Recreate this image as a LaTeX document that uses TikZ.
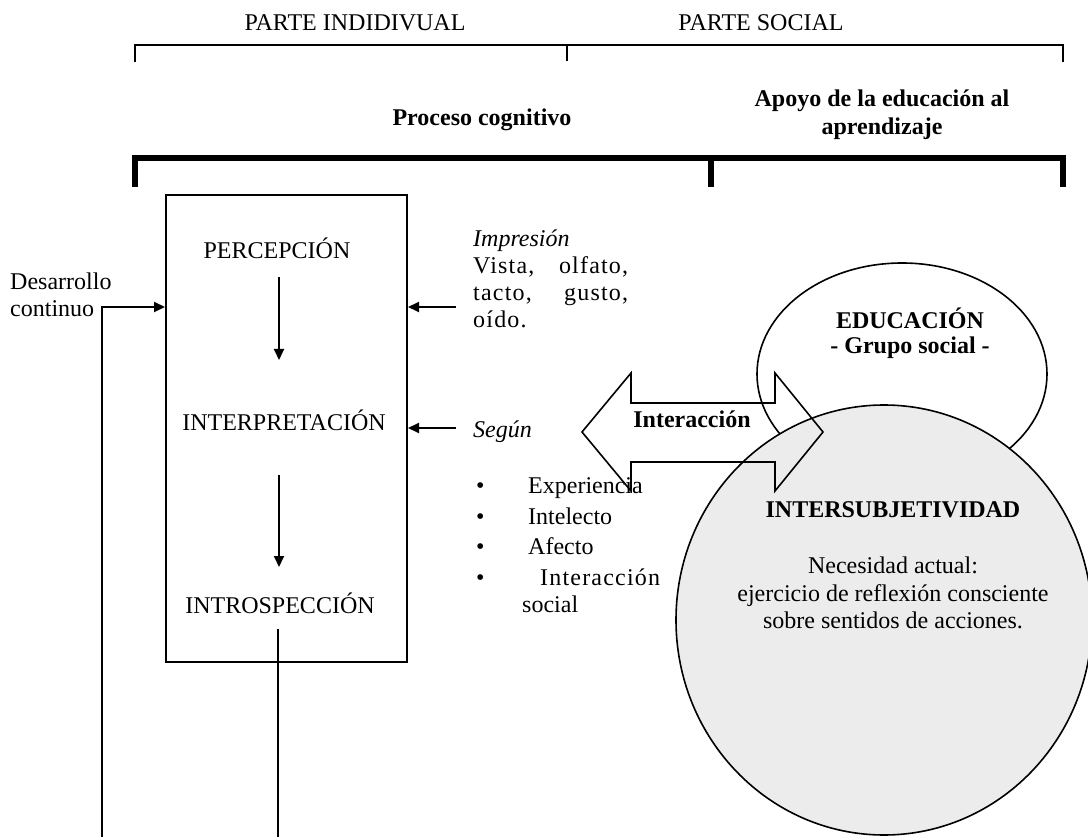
\documentclass[tikz,border=0pt]{standalone}
\usepackage{fontspec}
\setmainfont{Liberation Serif}
\usetikzlibrary{arrows.meta,shapes.geometric}
\begin{document}
\begin{tikzpicture}[x=1pt,y=-1pt,
  every node/.style={font=\fontsize{24}{28}\selectfont, inner sep=0pt},
  lbl/.style={anchor=base},
  lblw/.style={anchor=base west},
  bld/.style={font=\fontsize{24}{28}\selectfont\bfseries},
  itl/.style={font=\fontsize{24}{28}\selectfont\itshape},
  arr/.style={line width=2pt, -{Triangle[length=11pt,width=10pt]}},
  thinbr/.style={line width=1.5pt},
  thickbr/.style={line width=5.5pt},
  oval/.style={ellipse, draw, line width=1.6pt},
  spread/.style={font=\fontsize{24}{28}\selectfont\addfontfeature{LetterSpace=5}}
]
\useasboundingbox (0,0) rectangle (1088,837);

% headings and brackets
\node[lbl] (pind) at (355,31) {PARTE INDIDIVUAL};
\node[lbl] (psoc) at (761,31) {PARTE SOCIAL};
\draw[thinbr] (135,62) -- (135,45) -- (1063,45) -- (1063,62);
\draw[thinbr] (567,45) -- (567,61);

\node[lbl, bld] (proc) at (482,126) {Proceso cognitivo};
\node[lbl, bld] (apoyo1) at (882,107) {Apoyo de la educación al};
\node[lbl, bld] (apoyo2) at (882,135) {aprendizaje};
\draw[thickbr] (135,187) -- (135,158) -- (1063,158) -- (1063,187);
\draw[thickbr] (711,158) -- (711,187);

% cognitive process box
\node[draw, line width=2pt, minimum width=241pt, minimum height=467pt] (box) at (286.5,428.5) {};
\node[lbl] (perc) at (277,259) {PERCEPCIÓN};
\node[lbl] (interp) at (284,430) {INTERPRETACIÓN};
\node[lbl] (intro) at (280,613) {INTROSPECCIÓN};
\coordinate (p1) at (279,277);
\coordinate (p2) at (279,360);
\coordinate (p3) at (279,475);
\coordinate (p4) at (279,567);
\draw[arr] (p1) -- (p2);
\draw[arr] (p3) -- (p4);

% continuous development loop
\node[lblw] (des1) at (10,290) {Desarrollo};
\node[lblw] (des2) at (10,317) {continuo};
\coordinate (q1) at (278,629);
\coordinate (q2) at (278,837.5);
\coordinate (q3) at (102,837.5);
\coordinate (q4) at (102,307);
\draw[arr] (q1) -- (q2) -- (q3) -- (q4) -- (q4 -| box.west);

% inputs
\node[lblw, itl] (imp) at (473,247) {Impresión};
\node[lblw, spread] (imp2) at (473,274) {\makebox[155pt][s]{Vista, olfato,}};
\node[lblw, spread] (imp3) at (473,301) {\makebox[155pt][s]{tacto, gusto,}};
\node[lblw, spread] (imp4) at (473,328) {oído.};
\coordinate (r1) at (456,307);
\draw[arr] (r1) -- (r1 -| box.east);

\node[lblw, itl] (seg) at (473,437) {Según};
\coordinate (r2) at (456,428);
\draw[arr] (r2) -- (r2 -| box.east);

\node[lblw] (b1) at (476,493) {•};
\node[lblw] (b2) at (476,524) {•};
\node[lblw] (b3) at (476,554) {•};
\node[lblw] (b4) at (476,585) {•};
\node[lblw] (t1) at (528,493) {Experiencia};
\node[lblw] (t2) at (528,524) {Intelecto};
\node[lblw] (t3) at (528,554) {Afecto};
\node[lblw, spread] (t4) at (540,585) {Interacción};
\node[lblw] (t5) at (522,612) {social};

% social part
\node[oval, minimum width=290pt, minimum height=222pt] (edu) at (902,374) {};
\node[lbl, bld] (edu1) at (910,329) {EDUCACIÓN};
\node[lbl, bld] (edu2) at (910,353) {- Grupo social -};

\node[oval, fill=gray!15, minimum width=416pt, minimum height=430pt] (inter) at (884,620) {};
\node[lbl, bld] (inter1) at (893,517) {INTERSUBJETIVIDAD};
\node[lbl] (inter2) at (893,573) {Necesidad actual:};
\node[lbl] (inter3) at (893,601) {ejercicio de reflexión consciente};
\node[lbl] (inter4) at (893,628) {sobre sentidos de acciones.};

% two-way interaction arrow
\draw[line width=1.6pt, line join=miter]
  (582,432) -- (631,373) -- (631,403) -- (775,403) -- (775,373) -- (823,432)
  -- (775,491) -- (775,462) -- (631,462) -- (631,491) -- cycle;
\node[lbl, bld] (ia) at (692,427) {Interacción};
\end{tikzpicture}
\end{document}
